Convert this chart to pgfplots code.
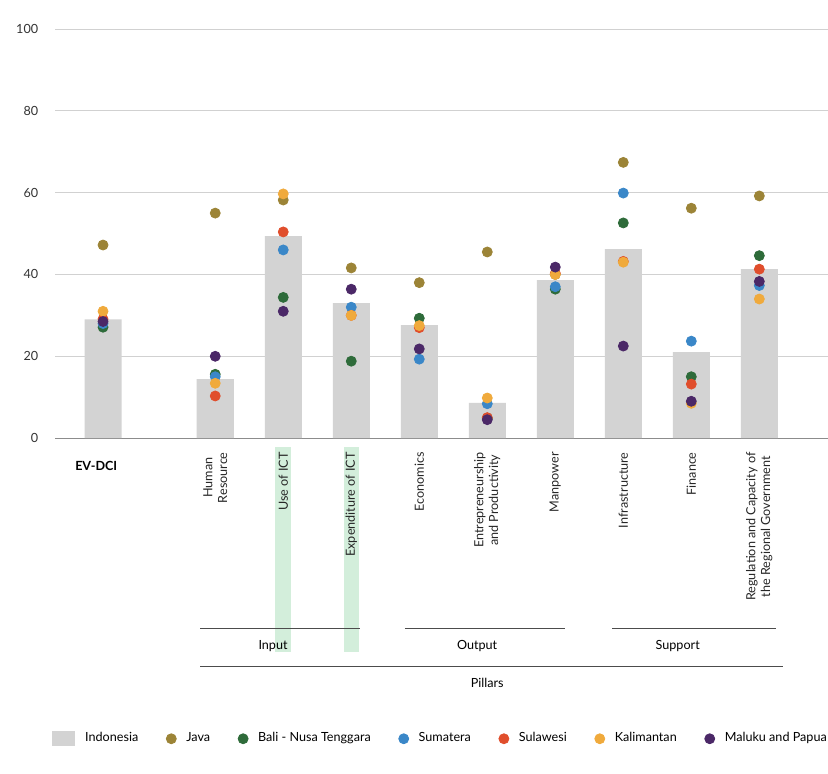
\documentclass[border=0pt]{standalone}
\usepackage{pgfplots}
\pgfplotsset{compat=1.18}
\usepackage{fontspec}
\setmainfont{Lato}
\definecolor{cbar}{HTML}{D3D3D3}
\definecolor{cjava}{HTML}{9C8437}
\definecolor{cbali}{HTML}{2E6B3A}
\definecolor{csum}{HTML}{3A87C8}
\definecolor{csul}{HTML}{E04E2C}
\definecolor{ckal}{HTML}{F0AA3C}
\definecolor{cmal}{HTML}{4B2867}
\definecolor{chl}{HTML}{D3EEDB}
\pgfplotsset{dot/.style={only marks, mark=*, mark size=2.5pt, mark options={draw=#1, fill=#1}, color=#1}}
\newcommand{\fs}{\fontsize{6.3}{7.4}\selectfont}
\begin{document}
\begin{tikzpicture}
\begin{axis}[
  x=34pt, y=2.045pt,
  xmin=-0.706, xmax=10.66, ymin=0, ymax=100,
  clip=false,
  axis y line=none, axis x line=none,
  ytick=\empty, xtick=\empty,
  legend columns=7,
  legend style={at={(axis cs:-0.85,-73.5)}, anchor=west, draw=none, fill=none,
    font=\fs, column sep=3pt,
    /tikz/every even column/.append style={column sep=12pt}},
]
\foreach \v in {0,20,40,60,80,100} {
  \edef\temp{\noexpand\draw[draw=black!18, line width=0.4pt] (axis cs:-0.706,\v) -- (axis cs:10.66,\v);
   \noexpand\node[anchor=east, text=black!80, font=\noexpand\fs] at (axis cs:-0.85,\v) {\v};}
  \temp
}
\draw[black!45, line width=0.5pt] (axis cs:-0.706,0) -- (axis cs:10.66,0);
\fill[chl] (axis cs:2.53,-2.2) rectangle (axis cs:2.77,-52.4);
\fill[chl] (axis cs:3.55,-2.2) rectangle (axis cs:3.77,-52.4);

\addplot[ybar, bar width=18.5pt, fill=cbar, draw=none, forget plot] coordinates {
 (0,29) (1.65,14.4) (2.65,49.4) (3.65,33) (4.65,27.6) (5.65,8.6) (6.65,38.6) (7.65,46.2) (8.65,21) (9.65,41.3)};
\addlegendimage{legend image code/.code={\fill[cbar] (0cm,-3.5pt) rectangle (0.4cm,3.5pt);}}
\addlegendentry{Indonesia}
\addplot[dot=cjava] coordinates {
 (0,47.2) (1.65,55) (2.65,58.2) (3.65,41.6) (4.65,38) (5.65,45.5) (6.65,40) (7.65,67.4) (8.65,56.2) (9.65,59.2)};
\addlegendentry{Java}
\addplot[dot=cbali] coordinates {
 (0,27.1) (1.65,15.6) (2.65,34.4) (3.65,18.8) (4.65,29.3) (5.65,4.9) (6.65,36.4) (7.65,52.6) (8.65,15) (9.65,44.6)};
\addlegendentry{Bali - Nusa Tenggara}
\addplot[dot=csum] coordinates {
 (0,28) (1.65,15) (2.65,46) (3.65,32) (4.65,19.3) (5.65,8.4) (6.65,37) (7.65,59.9) (8.65,23.7) (9.65,37.3)};
\addlegendentry{Sumatera}
\addplot[dot=csul] coordinates {
 (0,29.1) (1.65,10.3) (2.65,50.4) (3.65,30) (4.65,27) (5.65,5) (6.65,40.3) (7.65,43.2) (8.65,13.2) (9.65,41.3)};
\addlegendentry{Sulawesi}
\addplot[dot=ckal] coordinates {
 (0,31) (1.65,13.4) (2.65,59.7) (3.65,30) (4.65,27.5) (5.65,9.8) (6.65,40) (7.65,43) (8.65,8.5) (9.65,34)};
\addlegendentry{Kalimantan}
\addplot[dot=cmal] coordinates {
 (0,28.5) (1.65,20) (2.65,31) (3.65,36.4) (4.65,21.8) (5.65,4.5) (6.65,41.8) (7.65,22.5) (8.65,9) (9.65,38.3)};
\addlegendentry{Maluku and Papua}

\tikzset{cl/.style={rotate=90, anchor=east, align=center, font=\fs, text=black!85, inner sep=0pt}}
\node[anchor=north, font=\bfseries\fs] at (axis cs:-0.1,-4) {EV-DCI};
\node[cl] at (axis cs:1.65,-3.4) {Human\\Resource};
\node[cl] at (axis cs:2.65,-3.4) {Use of ICT};
\node[cl] at (axis cs:3.65,-3.4) {Expenditure of ICT};
\node[cl] at (axis cs:4.65,-3.4) {Economics};
\node[cl] at (axis cs:5.65,-3.4) {Entrepreneurship\\and Productivity};
\node[cl] at (axis cs:6.65,-3.4) {Manpower};
\node[cl] at (axis cs:7.65,-3.4) {Infrastructure};
\node[cl] at (axis cs:8.65,-3.4) {Finance};
\node[cl] at (axis cs:9.65,-3.4) {Regulation and Capacity of\\the Regional Government};
\draw[black!70, line width=0.4pt] (axis cs:1.43,-46.5) -- (axis cs:3.78,-46.5);
\draw[black!70, line width=0.4pt] (axis cs:4.44,-46.5) -- (axis cs:6.79,-46.5);
\draw[black!70, line width=0.4pt] (axis cs:7.49,-46.5) -- (axis cs:9.90,-46.5);
\node[font=\fs] at (axis cs:2.5,-50.9) {Input};
\node[font=\fs] at (axis cs:5.5,-50.9) {Output};
\node[font=\fs] at (axis cs:8.45,-50.9) {Support};
\draw[black!70, line width=0.4pt] (axis cs:1.43,-55.8) -- (axis cs:10.0,-55.8);
\node[font=\fs] at (axis cs:5.65,-59.9) {Pillars};
\coordinate (TL) at (axis cs:-1.515,107.1);
\coordinate (BR) at (axis cs:10.66,-81.9);
\end{axis}
\pgfresetboundingbox
\path[use as bounding box] (TL) rectangle (BR);
\end{tikzpicture}
\end{document}
